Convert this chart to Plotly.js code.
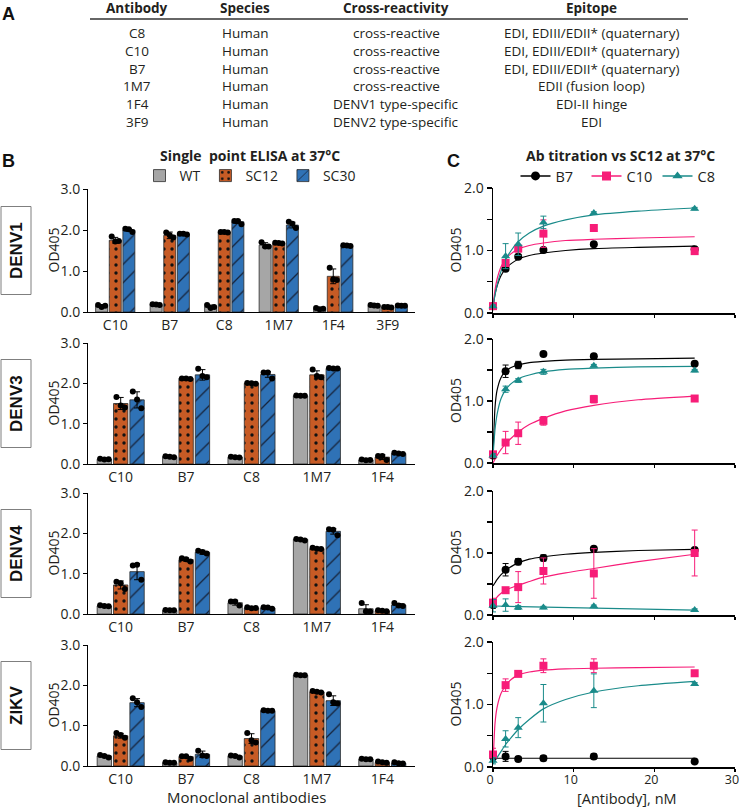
<!DOCTYPE html>
<html><head><meta charset="utf-8">
<script src="https://cdn.plot.ly/plotly-3.0.1.min.js"></script>
<style>html,body{margin:0;padding:0;background:#fff}#chart{width:740px;height:807px}</style>
</head><body><div id="chart"></div>
<script>
// ---------- Panel A: table ----------
const tableHeaders = ['Antibody', 'Species', 'Cross-reactivity', 'Epitope'];
const tableAntibody = ['C8', 'C10', 'B7', '1M7', '1F4', '3F9'];
const tableSpecies = ['Human', 'Human', 'Human', 'Human', 'Human', 'Human'];
const tableCross = ['cross-reactive', 'cross-reactive', 'cross-reactive', 'cross-reactive', 'DENV1 type-specific', 'DENV2 type-specific'];
const tableEpitope = ['EDI, EDIII/EDII* (quaternary)', 'EDI, EDIII/EDII* (quaternary)', 'EDI, EDIII/EDII* (quaternary)', 'EDII (fusion loop)', 'EDI-II hinge', 'EDI'];

// ---------- Panel B: single point ELISA ----------
const virusNames = ['DENV1', 'DENV3', 'DENV4', 'ZIKV'];
const seriesNames = ['WT', 'SC12', 'SC30'];
const catsDENV1 = ['C10', 'B7', 'C8', '1M7', '1F4', '3F9'];
const catsOther = ['C10', 'B7', 'C8', '1M7', '1F4'];

const denv1_wt = [0.15, 0.18, 0.13, 1.63, 0.08, 0.16];
const denv1_wt_sd = [0.03, 0.02, 0.04, 0.06, 0.02, 0.02];
const denv1_wt_pts = [[0.17, 0.12, 0.15], [0.19, 0.18, 0.17], [0.17, 0.10, 0.12], [1.70, 1.60, 1.60], [0.10, 0.07, 0.08], [0.17, 0.16, 0.15]];
const denv1_sc12 = [1.75, 1.87, 1.95, 1.68, 0.87, 0.12];
const denv1_sc12_sd = [0.07, 0.08, 0.01, 0.02, 0.18, 0.01];
const denv1_sc12_pts = [[1.84, 1.72, 1.73], [1.94, 1.87, 1.82], [1.95, 1.95, 1.94], [1.69, 1.68, 1.67], [1.08, 0.80, 0.78], [0.12, 0.12, 0.11]];
const denv1_sc30 = [2.00, 1.90, 2.20, 2.12, 1.62, 0.15];
const denv1_sc30_sd = [0.03, 0.02, 0.04, 0.07, 0.02, 0.01];
const denv1_sc30_pts = [[2.03, 2.02, 1.95], [1.91, 1.91, 1.89], [2.22, 2.22, 2.14], [2.20, 2.15, 2.05], [1.63, 1.62, 1.61], [0.16, 0.15, 0.15]];

const denv3_wt = [0.12, 0.18, 0.17, 1.69, 0.10];
const denv3_wt_sd = [0.02, 0.02, 0.02, 0.01, 0.02];
const denv3_wt_pts = [[0.13, 0.11, 0.12], [0.19, 0.18, 0.17], [0.18, 0.17, 0.16], [1.70, 1.69, 1.69], [0.11, 0.09, 0.10]];
const denv3_sc12 = [1.50, 2.12, 2.00, 2.21, 0.17];
const denv3_sc12_sd = [0.15, 0.01, 0.02, 0.10, 0.06];
const denv3_sc12_pts = [[1.66, 1.45, 1.40], [2.12, 2.12, 2.11], [2.01, 2.00, 1.99], [2.34, 2.18, 2.15], [0.20, 0.20, 0.10]];
const denv3_sc30 = [1.59, 2.21, 2.22, 2.37, 0.26];
const denv3_sc30_sd = [0.20, 0.13, 0.07, 0.01, 0.02];
const denv3_sc30_pts = [[1.80, 1.60, 1.38], [2.36, 2.18, 2.15], [2.27, 2.27, 2.12], [2.38, 2.37, 2.37], [0.28, 0.26, 0.25]];

const denv4_wt = [0.20, 0.09, 0.28, 1.85, 0.13];
const denv4_wt_sd = [0.02, 0.01, 0.06, 0.02, 0.10];
const denv4_wt_pts = [[0.22, 0.20, 0.19], [0.10, 0.09, 0.09], [0.31, 0.31, 0.21], [1.86, 1.85, 1.82], [0.27, 0.07, 0.06]];
const denv4_sc12 = [0.72, 1.35, 0.15, 1.62, 0.08];
const denv4_sc12_sd = [0.10, 0.04, 0.02, 0.02, 0.01];
const denv4_sc12_pts = [[0.80, 0.76, 0.62], [1.38, 1.36, 1.30], [0.17, 0.14, 0.15], [1.64, 1.62, 1.61], [0.09, 0.08, 0.07]];
const denv4_sc30 = [1.05, 1.53, 0.15, 2.05, 0.22];
const denv4_sc30_sd = [0.20, 0.05, 0.02, 0.07, 0.04];
const denv4_sc30_pts = [[1.20, 1.22, 0.85], [1.57, 1.54, 1.50], [0.17, 0.16, 0.13], [2.10, 2.09, 1.95], [0.27, 0.21, 0.20]];

const zikv_wt = [0.25, 0.08, 0.25, 2.25, 0.17];
const zikv_wt_sd = [0.03, 0.01, 0.03, 0.01, 0.01];
const zikv_wt_pts = [[0.27, 0.25, 0.21], [0.09, 0.08, 0.08], [0.26, 0.25, 0.21], [2.26, 2.25, 2.25], [0.18, 0.17, 0.17]];
const zikv_sc12 = [0.75, 0.23, 0.68, 1.84, 0.09];
const zikv_sc12_sd = [0.06, 0.03, 0.12, 0.03, 0.02];
const zikv_sc12_pts = [[0.82, 0.77, 0.70], [0.24, 0.24, 0.18], [0.82, 0.64, 0.58], [1.86, 1.84, 1.82], [0.11, 0.09, 0.08]];
const zikv_sc30 = [1.57, 0.29, 1.37, 1.62, 0.07];
const zikv_sc30_sd = [0.10, 0.08, 0.01, 0.12, 0.02];
const zikv_sc30_pts = [[1.68, 1.58, 1.46], [0.38, 0.26, 0.25], [1.38, 1.37, 1.37], [1.78, 1.58, 1.55], [0.09, 0.07, 0.06]];

// ---------- Panel C: Ab titration vs SC12 ----------
const abNames = ['B7', 'C10', 'C8'];
const concNM = [0, 1.5625, 3.125, 6.25, 12.5, 25];
const fitX = [0, 0.25, 0.5, 1, 1.5625, 2.25, 3.125, 4.5, 6.25, 9, 12.5, 18, 25];
const flatX = [0, 25];

const denv1_B7 = [0.11, 0.71, 0.90, 1.01, 1.10, 1.02];
const denv1_B7_err = [0.02, 0.03, 0.03, 0.02, 0.02, 0.02];
const denv1_B7_fit = [0.10, 0.30, 0.43, 0.60, 0.71, 0.79, 0.86, 0.92, 0.96, 1.00, 1.03, 1.05, 1.07];
const denv1_C10 = [0.11, 0.80, 1.03, 1.27, 1.36, 0.99];
const denv1_C10_err = [0.02, 0.05, 0.05, 0.22, 0.0, 0.02];
const denv1_C10_fit = [0.10, 0.37, 0.54, 0.74, 0.86, 0.95, 1.02, 1.08, 1.12, 1.16, 1.18, 1.20, 1.22];
const denv1_C8 = [0.11, 0.91, 1.10, 1.45, 1.60, 1.67];
const denv1_C8_err = [0.02, 0.20, 0.18, 0.10, 0.02, 0.02];
const denv1_C8_fit = [0.10, 0.29, 0.44, 0.67, 0.85, 1.00, 1.14, 1.28, 1.39, 1.49, 1.57, 1.63, 1.68];

const denv3_B7 = [0.12, 1.48, 1.58, 1.76, 1.72, 1.60];
const denv3_B7_err = [0.03, 0.10, 0.06, 0.02, 0.02, 0.02];
const denv3_B7_fit = [0.10, 0.90, 1.17, 1.38, 1.48, 1.54, 1.58, 1.62, 1.64, 1.66, 1.67, 1.68, 1.69];
const denv3_C10 = [0.14, 0.33, 0.48, 0.68, 1.03, 1.04];
const denv3_C10_err = [0.04, 0.18, 0.18, 0.07, 0.06, 0.02];
const denv3_C10_fit = [0.00, 0.06, 0.12, 0.22, 0.31, 0.40, 0.50, 0.62, 0.72, 0.84, 0.93, 1.02, 1.08];
const denv3_C8 = [0.12, 1.19, 1.33, 1.47, 1.57, 1.49];
const denv3_C8_err = [0.03, 0.05, 0.03, 0.04, 0.02, 0.02];
const denv3_C8_fit = [0.10, 0.54, 0.78, 1.04, 1.18, 1.28, 1.36, 1.42, 1.47, 1.51, 1.53, 1.55, 1.56];

const denv4_B7 = [0.16, 0.73, 0.86, 0.92, 1.07, 1.05];
const denv4_B7_err = [0.05, 0.10, 0.05, 0.05, 0.02, 0.02];
const denv4_B7_fit = [0.47, 0.52, 0.57, 0.65, 0.72, 0.78, 0.84, 0.90, 0.94, 0.98, 1.01, 1.04, 1.06];
const denv4_C10 = [0.20, 0.40, 0.45, 0.71, 0.67, 1.00];
const denv4_C10_err = [0.07, 0.03, 0.25, 0.21, 0.40, 0.37];
const denv4_C10_fit = [0.19, 0.24, 0.29, 0.35, 0.40, 0.44, 0.48, 0.54, 0.61, 0.68, 0.75, 0.86, 0.98];
const denv4_C8 = [0.15, 0.16, 0.12, 0.12, 0.14, 0.08];
const denv4_C8_err = [0.10, 0.10, 0.03, 0.02, 0.02, 0.02];
const denv4_C8_fit = [0.145, 0.08];

const zikv_B7 = [0.17, 0.17, 0.13, 0.14, 0.17, 0.09];
const zikv_B7_err = [0.05, 0.08, 0.03, 0.04, 0.04, 0.02];
const zikv_B7_fit = [0.14, 0.14];
const zikv_C10 = [0.20, 1.31, 1.49, 1.62, 1.62, 1.50];
const zikv_C10_err = [0.10, 0.10, 0.03, 0.11, 0.11, 0.02];
const zikv_C10_fit = [0.05, 0.70, 0.95, 1.18, 1.30, 1.40, 1.47, 1.52, 1.55, 1.57, 1.58, 1.59, 1.60];
const zikv_C8 = [0.10, 0.45, 0.63, 1.02, 1.22, 1.33];
const zikv_C8_err = [0.05, 0.13, 0.16, 0.30, 0.27, 0.02];
const zikv_C8_fit = [0.05, 0.10, 0.15, 0.25, 0.36, 0.47, 0.60, 0.76, 0.93, 1.08, 1.20, 1.30, 1.37];

// ---------- assembly ----------
const W = 740, H = 807;
const px = v => v / W;
const py = v => 1 - v / H;
const FONT = 'Open Sans, Noto Sans, sans-serif';
const TXT = '#231f20';

const barPanels = [
  {cats: catsDENV1, s: [[denv1_wt, denv1_wt_sd, denv1_wt_pts], [denv1_sc12, denv1_sc12_sd, denv1_sc12_pts], [denv1_sc30, denv1_sc30_sd, denv1_sc30_pts]], top: 189, bot: 312},
  {cats: catsOther, s: [[denv3_wt, denv3_wt_sd, denv3_wt_pts], [denv3_sc12, denv3_sc12_sd, denv3_sc12_pts], [denv3_sc30, denv3_sc30_sd, denv3_sc30_pts]], top: 343, bot: 464},
  {cats: catsOther, s: [[denv4_wt, denv4_wt_sd, denv4_wt_pts], [denv4_sc12, denv4_sc12_sd, denv4_sc12_pts], [denv4_sc30, denv4_sc30_sd, denv4_sc30_pts]], top: 493, bot: 614},
  {cats: catsOther, s: [[zikv_wt, zikv_wt_sd, zikv_wt_pts], [zikv_sc12, zikv_sc12_sd, zikv_sc12_pts], [zikv_sc30, zikv_sc30_sd, zikv_sc30_pts]], top: 645, bot: 766}
];
const barStyles = [
  {color: '#a6a6a6', pattern: {shape: ''}},
  {color: '#c75b25', pattern: {shape: '.', fgcolor: '#111', bgcolor: '#c75b25', size: 8, solidity: 0.14}},
  {color: '#2f72b6', pattern: {shape: '/', fgcolor: '#16233a', bgcolor: '#2f72b6', size: 13, solidity: 0.1}}
];
const linePanels = [
  {s: [[denv1_B7, denv1_B7_err, fitX, denv1_B7_fit], [denv1_C10, denv1_C10_err, fitX, denv1_C10_fit], [denv1_C8, denv1_C8_err, fitX, denv1_C8_fit]], top: 188, bot: 313},
  {s: [[denv3_B7, denv3_B7_err, fitX, denv3_B7_fit], [denv3_C10, denv3_C10_err, fitX, denv3_C10_fit], [denv3_C8, denv3_C8_err, fitX, denv3_C8_fit]], top: 339, bot: 463},
  {s: [[denv4_B7, denv4_B7_err, fitX, denv4_B7_fit], [denv4_C10, denv4_C10_err, fitX, denv4_C10_fit], [denv4_C8, denv4_C8_err, flatX, denv4_C8_fit]], top: 491, bot: 615},
  {s: [[zikv_B7, zikv_B7_err, flatX, zikv_B7_fit], [zikv_C10, zikv_C10_err, fitX, zikv_C10_fit], [zikv_C8, zikv_C8_err, fitX, zikv_C8_fit]], top: 642, bot: 767}
];
const lineStyles = [
  {color: '#000000', symbol: 'circle', size: 8},
  {color: '#f71d78', symbol: 'square', size: 8},
  {color: '#1a8b8a', symbol: 'triangle-up', size: 8}
];

const traces = [];
const layout = {
  width: W, height: H, margin: {l: 0, r: 0, t: 0, b: 0},
  paper_bgcolor: '#fff', plot_bgcolor: 'rgba(0,0,0,0)',
  font: {family: FONT, size: 13, color: TXT},
  barmode: 'group', bargap: 0.25, bargroupgap: 0.12,
  showlegend: true,
  legend: {orientation: 'h', x: px(250), y: py(176), xanchor: 'center', yanchor: 'middle',
           font: {size: 14, color: TXT}, bgcolor: 'rgba(0,0,0,0)', itemwidth: 30, tracegroupgap: 0},
  legend2: {orientation: 'h', x: px(622), y: py(176), xanchor: 'center', yanchor: 'middle',
           font: {size: 14.5, color: TXT}, bgcolor: 'rgba(0,0,0,0)', itemwidth: 30,
           entrywidth: 26, entrywidthmode: 'pixels'},
  annotations: [], shapes: []
};

const jit = [-0.065, 0, 0.065];
const slot = (1 - 0.25) / 3;

barPanels.forEach((p, pi) => {
  const n = pi + 1;
  const xk = n === 1 ? 'x' : 'x' + n, yk = n === 1 ? 'y' : 'y' + n;
  const idx = p.cats.map((c, i) => i);
  p.s.forEach((ser, si) => {
    const st = barStyles[si];
    traces.push({
      type: 'bar', x: idx, y: ser[0], xaxis: xk, yaxis: yk, offsetgroup: String(si),
      name: seriesNames[si], legend: 'legend', showlegend: pi === 0,
      marker: {color: st.color, pattern: st.pattern, line: {color: '#2b2b2b', width: 0.8}},
      error_y: {type: 'data', array: ser[1], visible: true, color: '#000', thickness: 1, width: 3},
      hoverinfo: 'skip'
    });
    const dx = [], dy = [];
    ser[2].forEach((trip, i) => trip.forEach((v, k) => { dx.push(i + (si - 1) * slot + jit[k]); dy.push(v); }));
    traces.push({
      type: 'scatter', mode: 'markers', x: dx, y: dy, xaxis: xk, yaxis: yk, showlegend: false,
      marker: {color: '#000', size: 6}, cliponaxis: false, hoverinfo: 'skip'
    });
  });
  const ax = {
    domain: [px(88), px(415)], range: [-0.5, p.cats.length - 0.5], anchor: yk,
    tickmode: 'array', tickvals: idx, ticktext: p.cats, ticks: '', showline: true,
    linecolor: '#000', linewidth: 1, showgrid: false, zeroline: false,
    tickfont: {size: 14, color: TXT}, fixedrange: true
  };
  const ay = {
    domain: [py(p.bot), py(p.top)], range: [0, 3], anchor: xk,
    tickmode: 'array', tickvals: [0, 1, 2, 3], ticktext: ['0.0', '1.0', '2.0', '3.0'],
    ticks: 'outside', ticklen: 4, tickwidth: 1, tickcolor: '#000', showline: true,
    linecolor: '#000', linewidth: 1, showgrid: false, zeroline: false,
    tickfont: {size: 14, color: TXT}, fixedrange: true
  };
  layout['xaxis' + (n === 1 ? '' : n)] = ax;
  layout['yaxis' + (n === 1 ? '' : n)] = ay;
  layout.annotations.push({xref: 'paper', yref: 'paper', x: px(53), y: py((p.top + p.bot) / 2),
    text: 'OD405', textangle: -90, showarrow: false, font: {size: 14, color: TXT}, xanchor: 'center', yanchor: 'middle'});
  const cy = (p.top + p.bot) / 2;
  layout.shapes.push({type: 'rect', xref: 'paper', yref: 'paper', x0: px(1), x1: px(31), y0: py(cy + 44), y1: py(cy - 44),
    line: {color: '#7f7f7f', width: 1}, fillcolor: 'rgba(0,0,0,0)'});
  layout.annotations.push({xref: 'paper', yref: 'paper', x: px(16.5), y: py(cy),
    text: '<b>' + virusNames[pi] + '</b>', textangle: -90, showarrow: false,
    font: {family: 'Liberation Sans, Arial, sans-serif', size: 17, color: '#111'}, xanchor: 'center', yanchor: 'middle'});
});

linePanels.forEach((p, pi) => {
  const n = pi + 5;
  const xk = 'x' + n, yk = 'y' + n;
  p.s.forEach((ser, si) => {
    const st = lineStyles[si];
    traces.push({
      type: 'scatter', mode: 'lines', x: ser[2], y: ser[3], xaxis: xk, yaxis: yk,
      line: {color: st.color, width: 1.2, shape: 'spline', smoothing: 0.6}, showlegend: false, hoverinfo: 'skip'
    });
  });
  p.s.forEach((ser, si) => {
    const st = lineStyles[si];
    traces.push({
      type: 'scatter', mode: 'markers', x: concNM, y: ser[0], xaxis: xk, yaxis: yk,
      marker: {color: st.color, symbol: st.symbol, size: st.size},
      error_y: {type: 'data', array: ser[1], visible: true, color: st.color, thickness: 1, width: 3},
      cliponaxis: false, showlegend: false, hoverinfo: 'skip'
    });
  });
  layout['xaxis' + n] = {
    domain: [px(493), px(735)], range: [0, 30], anchor: yk,
    tickmode: 'array', tickvals: [0, 10, 20, 30], showticklabels: pi === 3,
    ticks: 'outside', ticklen: 3, tickwidth: 1.3, tickcolor: '#000', showline: true,
    linecolor: '#000', linewidth: 1.5, showgrid: false, zeroline: false, ticklabeloverflow: 'allow',
    ticklabelstandoff: -3, ticklabelshift: -3,
    tickfont: {size: 12.5, color: TXT}, fixedrange: true
  };
  layout['yaxis' + n] = {
    domain: [py(p.bot), py(p.top)], range: [0, 2], anchor: xk,
    tickmode: 'array', tickvals: [0, 0.5, 1, 1.5, 2], ticktext: ['0.0', '', '1.0', '', '2.0'],
    ticks: 'outside', ticklen: 5, tickwidth: 1.3, tickcolor: '#000', showline: true,
    linecolor: '#000', linewidth: 1.5, showgrid: false, zeroline: false,
    tickfont: {size: 14, color: TXT}, fixedrange: true
  };
  layout.annotations.push({xref: 'paper', yref: 'paper', x: px(455), y: py((p.top + p.bot) / 2),
    text: 'OD405', textangle: -90, showarrow: false, font: {size: 14, color: TXT}, xanchor: 'center', yanchor: 'middle'});
});

// legend entries for panel C (legend only, no data)
abNames.forEach((nm, si) => {
  const st = lineStyles[si];
  traces.push({type: 'scatter', mode: 'lines+markers', x: [null], y: [null], xaxis: 'x5', yaxis: 'y5',
    name: nm, legend: 'legend2', showlegend: true,
    line: {color: st.color, width: 1.5}, marker: {color: st.color, symbol: st.symbol, size: 9}});
});

// table
const colX = [137, 245, 396, 591];
const headY = 8, rowY0 = 33, rowDY = 17.8;
tableHeaders.forEach((h, c) => layout.annotations.push({xref: 'paper', yref: 'paper', x: px(colX[c]), y: py(headY),
  text: '<b>' + h + '</b>', showarrow: false, font: {size: 13.5, color: TXT}, xanchor: 'center', yanchor: 'middle'}));
[tableAntibody, tableSpecies, tableCross, tableEpitope].forEach((col, c) => col.forEach((t, r) =>
  layout.annotations.push({xref: 'paper', yref: 'paper', x: px(colX[c]), y: py(rowY0 + r * rowDY),
    text: t, showarrow: false, font: {size: 13.5, color: TXT}, xanchor: 'center', yanchor: 'middle'})));
layout.shapes.push({type: 'line', xref: 'paper', yref: 'paper', x0: px(90), x1: px(688), y0: py(19), y1: py(19),
  line: {color: '#333', width: 1.5}});

// panel letters & titles
const LET = {family: 'Liberation Sans, Arial, sans-serif', size: 18, color: '#111'};
[['A', 8, 14], ['B', 8, 161], ['C', 453, 161]].forEach(l => layout.annotations.push({xref: 'paper', yref: 'paper',
  x: px(l[1]), y: py(l[2]), text: '<b>' + l[0] + '</b>', showarrow: false, font: LET, xanchor: 'center', yanchor: 'middle'}));
layout.annotations.push({xref: 'paper', yref: 'paper', x: px(250), y: py(156), text: '<b>Single  point ELISA at 37°C</b>',
  showarrow: false, font: {size: 14, color: TXT}, xanchor: 'center', yanchor: 'middle'});
layout.annotations.push({xref: 'paper', yref: 'paper', x: px(620), y: py(156), text: '<b>Ab titration vs SC12 at 37°C</b>',
  showarrow: false, font: {size: 14, color: TXT}, xanchor: 'center', yanchor: 'middle'});
layout.annotations.push({xref: 'paper', yref: 'paper', x: px(247), y: py(797), text: 'Monoclonal antibodies',
  showarrow: false, font: {size: 15, color: TXT}, xanchor: 'center', yanchor: 'middle'});
layout.annotations.push({xref: 'paper', yref: 'paper', x: px(627), y: py(798), text: '[Antibody], nM',
  showarrow: false, font: {size: 14.5, color: TXT}, xanchor: 'center', yanchor: 'middle'});

Plotly.newPlot('chart', traces, layout, {displayModeBar: false, staticPlot: true});
</script>
</body></html>
